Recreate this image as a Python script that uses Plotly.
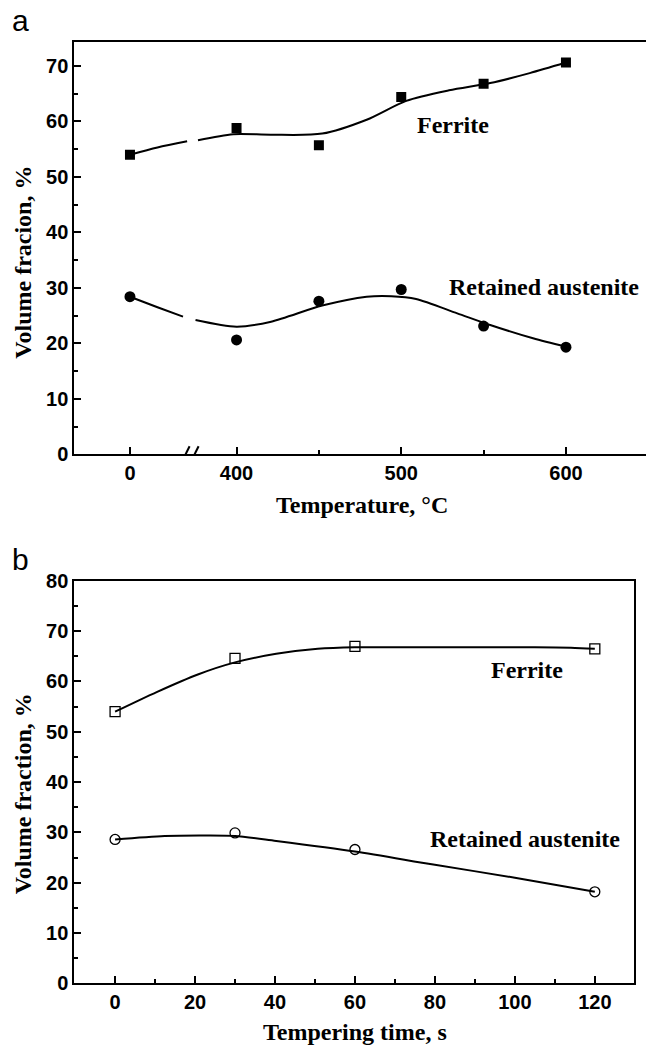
import plotly.graph_objects as go

# ---------------- data ----------------
# Panel a: tempering temperature (0 = as-received, axis broken between 0 and 400)
temp_labels = ["0", "400", "450", "500", "550", "600"]
temps = [0, 400, 450, 500, 550, 600]
ferrite_a = [54.0, 58.8, 55.7, 64.4, 66.8, 70.6]
austenite_a = [28.4, 20.6, 27.6, 29.7, 23.1, 19.3]

# fitted curves of panel a (axis positions, None = break gap)
ferrite_a_fit_x = [335.3, 352, 370, None, 376.6, 398, 421, 452, 479, 503, 529, 554, 578, 600]
ferrite_a_fit_y = [54.0, 55.3, 56.4, None, 56.6, 57.7, 57.6, 57.8, 60.3, 63.7, 65.6, 66.9, 68.7, 70.6]
austenite_a_fit_x = [335.3, 352, 367.5, None, 375.1, 400, 421, 452, 479, 494, 509, 534, 554, 580, 600]
austenite_a_fit_y = [28.4, 26.5, 24.8, None, 24.2, 23.0, 23.9, 26.8, 28.4, 28.5, 28.0, 25.4, 23.3, 20.9, 19.4]

# Panel b: tempering time at fixed temperature
times = [0, 30, 60, 120]
ferrite_b = [54.0, 64.6, 67.0, 66.5]
austenite_b = [28.6, 29.9, 26.6, 18.2]

ferrite_b_fit_x = [0, 10.4, 20.7, 30, 40.3, 50.7, 60, 75, 90, 105, 114, 120]
ferrite_b_fit_y = [54.0, 57.9, 61.4, 63.8, 65.5, 66.5, 66.8, 66.8, 66.8, 66.8, 66.7, 66.5]
austenite_b_fit_x = [0, 12.4, 22.7, 30, 40.3, 60, 79.6, 100, 120]
austenite_b_fit_y = [28.6, 29.3, 29.4, 29.3, 28.3, 26.2, 23.6, 21.0, 18.2]

# position of the "0" tick on the broken axis and of the break itself
ZERO_POS = 335.3
BREAK_POS = 371.8

W, H = 646, 1057


def px(x):
    return x / W


def py(y):
    return 1 - y / H


temp_pos = [ZERO_POS if t == 0 else t for t in temps]

fig = go.Figure()

line_style = dict(color="black", width=2, shape="spline", smoothing=0.8)

# panel a
fig.add_trace(go.Scatter(x=ferrite_a_fit_x, y=ferrite_a_fit_y, mode="lines", line=line_style,
                         connectgaps=False, xaxis="x", yaxis="y", showlegend=False, hoverinfo="skip"))
fig.add_trace(go.Scatter(x=austenite_a_fit_x, y=austenite_a_fit_y, mode="lines", line=line_style,
                         connectgaps=False, xaxis="x", yaxis="y", showlegend=False, hoverinfo="skip"))
fig.add_trace(go.Scatter(x=temp_pos, y=ferrite_a, mode="markers", name="Ferrite",
                         marker=dict(symbol="square", size=10, color="black"),
                         xaxis="x", yaxis="y", showlegend=False))
fig.add_trace(go.Scatter(x=temp_pos, y=austenite_a, mode="markers", name="Retained austenite",
                         marker=dict(symbol="circle", size=11, color="black"),
                         xaxis="x", yaxis="y", showlegend=False))

# panel b
fig.add_trace(go.Scatter(x=ferrite_b_fit_x, y=ferrite_b_fit_y, mode="lines", line=line_style,
                         xaxis="x2", yaxis="y2", showlegend=False, hoverinfo="skip"))
fig.add_trace(go.Scatter(x=austenite_b_fit_x, y=austenite_b_fit_y, mode="lines", line=line_style,
                         xaxis="x2", yaxis="y2", showlegend=False, hoverinfo="skip"))
fig.add_trace(go.Scatter(x=times, y=ferrite_b, mode="markers", name="Ferrite",
                         marker=dict(symbol="square-open", size=10, color="black",
                                     line=dict(width=1.3, color="black")),
                         xaxis="x2", yaxis="y2", showlegend=False))
fig.add_trace(go.Scatter(x=times, y=austenite_b, mode="markers", name="Retained austenite",
                         marker=dict(symbol="circle-open", size=10, color="black",
                                     line=dict(width=1.3, color="black")),
                         xaxis="x2", yaxis="y2", showlegend=False))

tick_font = dict(family="Liberation Sans, Arial, sans-serif", size=20, color="black", weight="bold")
serif_font = dict(family="Liberation Serif, Times New Roman, serif", size=24, color="black", weight="bold")

axis_common = dict(showline=True, linecolor="black", linewidth=2, ticks="inside",
                   ticklen=7, tickwidth=2, tickcolor="black", showgrid=False,
                   zeroline=False, tickfont=tick_font)

fig.update_layout(
    width=W, height=H,
    margin=dict(l=0, r=0, t=0, b=0),
    paper_bgcolor="white", plot_bgcolor="white",
    xaxis=dict(domain=[px(74.3), 1.0], anchor="y", range=[301.5, 648.6],
               tickmode="array", tickvals=[ZERO_POS, 400, 500, 600],
               ticktext=[temp_labels[0], temp_labels[1], temp_labels[3], temp_labels[5]],
               minor=dict(tickmode="array", tickvals=[450, 550], ticklen=4, tickwidth=2,
                          tickcolor="black", ticks="inside", showgrid=False),
               mirror=True, **axis_common),
    yaxis=dict(domain=[py(452.7), py(31.7)], anchor="x", range=[0, 74.3],
               tickmode="array", tickvals=[0, 10, 20, 30, 40, 50, 60, 70],
               minor=dict(tickmode="array", tickvals=[5, 15, 25, 35, 45, 55, 65],
                          ticklen=4, tickwidth=2, tickcolor="black", ticks="inside", showgrid=False),
               mirror=False, **axis_common),
    xaxis2=dict(domain=[px(74.3), px(634)], anchor="y2", range=[-10.2, 129.8],
                tickmode="array", tickvals=[0, 20, 40, 60, 80, 100, 120],
                minor=dict(tickmode="array", tickvals=[10, 30, 50, 70, 90, 110],
                           ticklen=4, tickwidth=2, tickcolor="black", ticks="inside", showgrid=False),
                mirror=True, **axis_common),
    yaxis2=dict(domain=[py(993), py(582)], anchor="x2", range=[0, 80],
                tickmode="array", tickvals=[0, 10, 20, 30, 40, 50, 60, 70, 80],
                minor=dict(tickmode="array", tickvals=[5, 15, 25, 35, 45, 55, 65, 75],
                           ticklen=4, tickwidth=2, tickcolor="black", ticks="inside", showgrid=False),
                mirror=True, **axis_common),
)

# axis-break marks "//" on panel a
for dx in (-4.5, 4.5):
    fig.add_shape(type="line", xref="x", yref="y", xsizemode="pixel", ysizemode="pixel",
                  xanchor=BREAK_POS, yanchor=0, x0=dx - 4, x1=dx + 4, y0=-8, y1=8,
                  line=dict(color="black", width=2))


def note(text, x, y, xref="paper", yref="paper", font=None, angle=0, xanchor="center"):
    return dict(text=text, x=x, y=y, xref=xref, yref=yref, xanchor=xanchor, yanchor="middle",
                textangle=angle, showarrow=False, font=font or serif_font)


label_font = dict(family="Liberation Sans, Arial, sans-serif", size=30, color="black")
annotations = [
    note("a", px(10), py(10), font=label_font, xanchor="left"),
    note("b", px(10), py(560), font=label_font, xanchor="left"),
    note("Volume fracion, %", px(23), py(257), angle=-90),
    note("Volume fraction, %", px(23), py(800), angle=-90),
    note("Temperature, °C", px(362), py(505)),
    note("Tempering time, s", px(355), py(1043)),
    note("Ferrite", 531.4, 59.3, "x", "y"),
    note("Retained austenite", 586.7, 30.2, "x", "y"),
    note("Ferrite", 103.1, 62.3, "x2", "y2"),
    note("Retained austenite", 102.6, 28.6, "x2", "y2"),
]
fig.update_layout(annotations=annotations)

fig.write_html("out.html")
